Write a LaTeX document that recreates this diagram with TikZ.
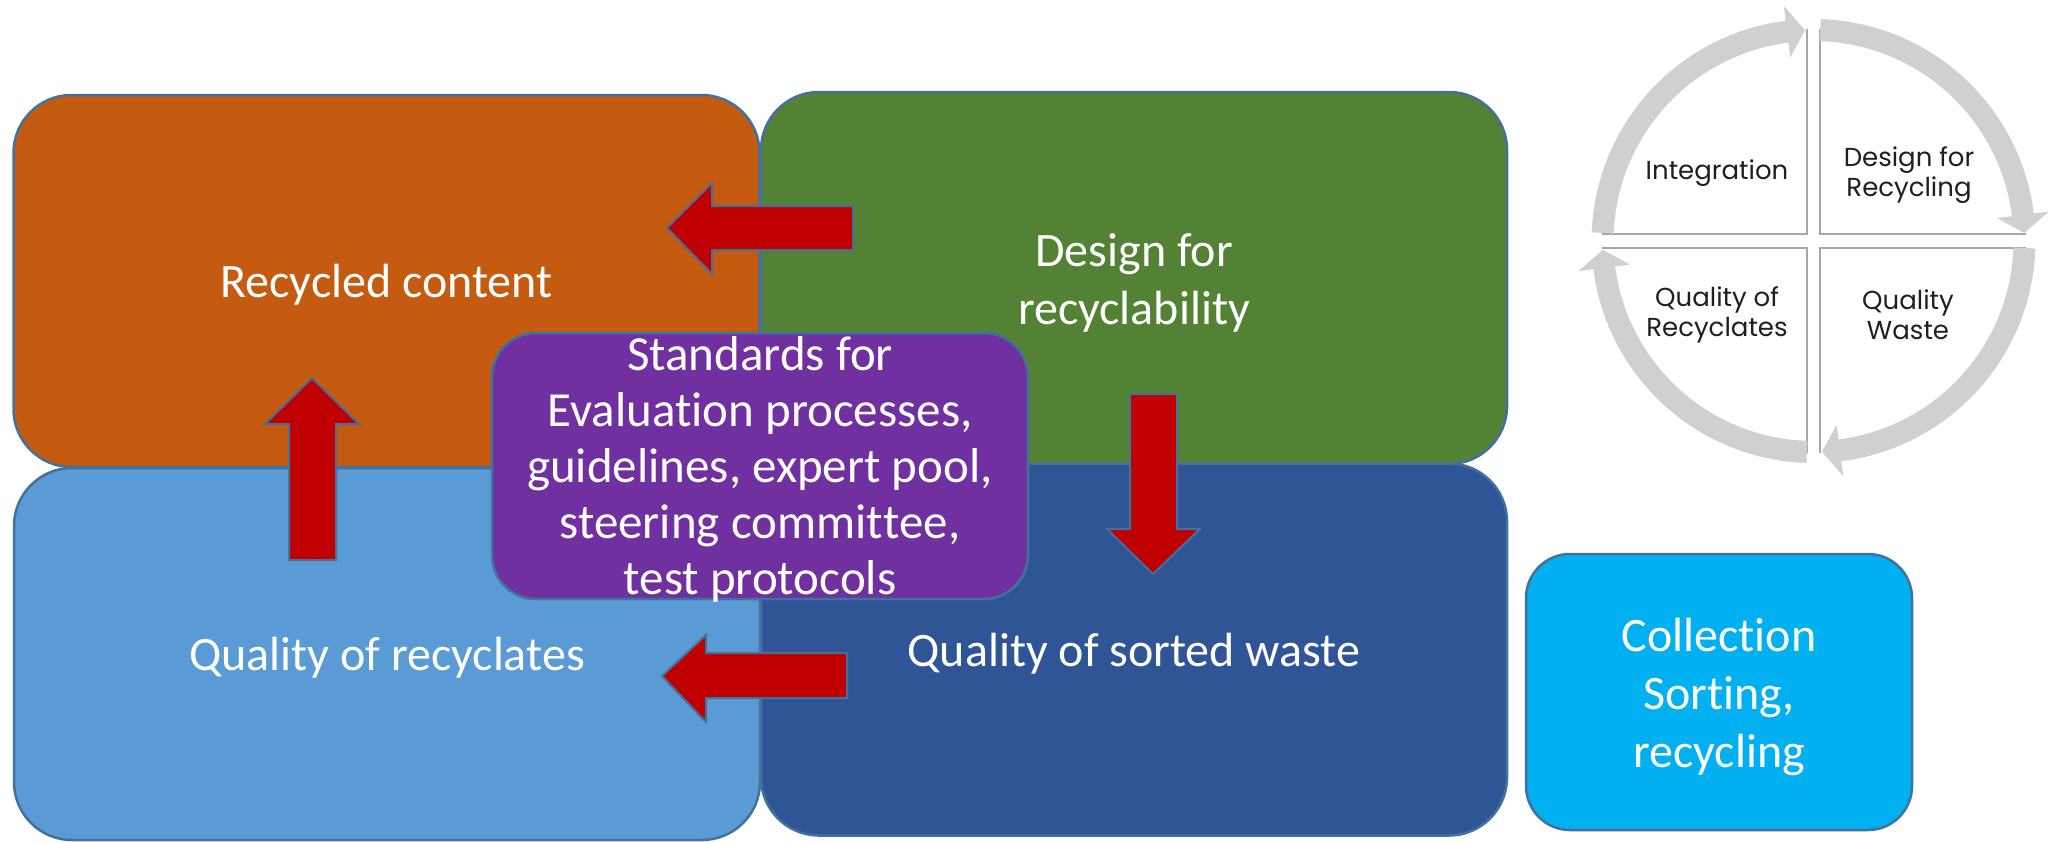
\documentclass[tikz,border=0pt]{standalone}
\usepackage{fontspec}
\setmainfont{Carlito}[Ligatures=NoCommon]
\newfontfamily\gothic{Poppins}
\usetikzlibrary{calc}
\definecolor{cOrange}{HTML}{C55A11}
\definecolor{cGreen}{HTML}{548235}
\definecolor{cLBlue}{HTML}{5B9BD5}
\definecolor{cDBlue}{HTML}{2F5597}
\definecolor{cPurple}{HTML}{7030A0}
\definecolor{cCyan}{HTML}{00B0F0}
\definecolor{cRed}{HTML}{C00000}
\definecolor{cEdge}{HTML}{41719C}
\definecolor{cRing}{HTML}{D0D0D0}
\definecolor{cQuad}{HTML}{A6A6A6}
\definecolor{cText}{HTML}{1F1F1F}
\begin{document}
\begin{tikzpicture}[x=0.5pt,y=-0.5pt,
  box/.style={draw=cEdge, line width=1.25pt, rounded corners=29pt, inner sep=0pt},
  bigbox/.style={box, minimum width=373pt, minimum height=186pt},
  smallbox/.style={box, rounded corners=22pt},
  boxtext/.style={inner sep=0pt, text=white, align=center, font=\fontsize{24}{29}\selectfont},
  redarrow/.style={fill=cRed, draw=cEdge, line width=1pt, line join=miter},
  ring/.style={draw=cRing, line width=11pt},
  quadline/.style={draw=cQuad, line width=0.6pt},
  qlabel/.style={font=\gothic\fontsize{13}{15}\selectfont, text=cText, align=center, inner sep=0pt}]
\useasboundingbox (0,0) rectangle (2048,842);

% four main boxes
\node[bigbox, fill=cOrange] (rc) at (386.5,281) {};
\node[bigbox, fill=cGreen] (dr) at (1134,278) {};
\node[bigbox, fill=cLBlue] (qr) at (387,654) {};
\node[bigbox, fill=cDBlue] (qs) at (1134,649.5) {};
\node[boxtext] (rct) at ($(rc)+(0,4)$) {Recycled content};
\node[boxtext] (drt) at ($(dr)+(0,5)$) {Design for\\recyclability};
\node[boxtext] (qrt) at ($(qr)+(0,4)$) {Quality of recyclates};
\node[boxtext] (qst) at ($(qs)+(0,4)$) {Quality of sorted waste};

% block arrows
\draw[redarrow] (667,228) -- (712,183) -- (712,206) -- (853,206) -- (853,250) -- (712,250) -- (712,274) -- cycle;
\draw[redarrow] (312,378) -- (359,424) -- (336,424) -- (336,560) -- (289,560) -- (289,424) -- (265,424) -- cycle;
\draw[redarrow] (1153,574) -- (1107,529) -- (1130,529) -- (1130,394) -- (1177,394) -- (1177,529) -- (1200,529) -- cycle;
\draw[redarrow] (662,676) -- (706,635) -- (706,653) -- (847,653) -- (847,698) -- (706,698) -- (706,722) -- cycle;

% centre box
\node[smallbox, fill=cPurple, minimum width=268pt, minimum height=133pt] (std) at (760,466) {};
\node[boxtext, font=\fontsize{24.5}{28}\selectfont] (stdt) at (760,469.5)
  {Standards for\\Evaluat\kern0pt ion processes,\\guidelines, expert pool,\\steering commit\kern0pt t\kern0pt ee,\\test protocols};

% collection box
\node[smallbox, fill=cCyan, minimum width=193pt, minimum height=138pt] (col) at (1719,692) {};
\node[boxtext] (colt) at ($(col)+(0,5)$) {Collect\kern0pt ion\\Sorting,\\recycling};

% cycle diagram
\coordinate (cc) at (1813.5,241);
\draw[quadline] (1601.5,234) -- (1807,234) -- (1807,29);
\draw[quadline] (2025.5,234) -- (1820,234) -- (1820,29);
\draw[quadline] (1601.5,248) -- (1807,248) -- (1807,453);
\draw[quadline] (2025.5,248) -- (1820,248) -- (1820,453);
\foreach \a/\b in {182.2/267.7, 271.8/357.8, 1.9/87.7, 91.8/177.6} {
  \pgfmathsetmacro\bb{\b-4.9}
  \pgfmathsetmacro\be{\b-4.5}
  \draw[ring] plot[domain=\a:\be, samples=40] ({1813.5+211*cos(\x)},{241+211*sin(\x)});
  \fill[cRing] ($(cc)+(\bb:185)$) -- ($(cc)+(\b:211)$) -- ($(cc)+(\bb:237)$) -- cycle;
}
\node[qlabel] (qi) at (1717,173) {Integration};
\node[qlabel] (qd) at (1909,175) {Design for\\Recycling};
\node[qlabel] (qq) at (1717,315) {Quality of\\Recyclates};
\node[qlabel] (qw) at (1908,315) {Quality\\Waste};
\end{tikzpicture}
\end{document}
